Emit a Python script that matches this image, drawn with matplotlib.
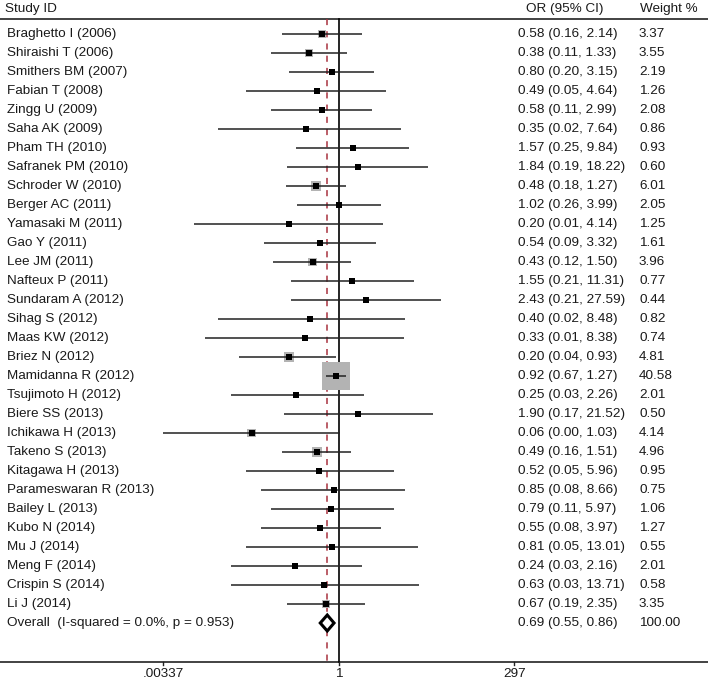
import numpy as np
import matplotlib.pyplot as plt
from matplotlib.patches import Polygon
import matplotlib.transforms as mtransforms

plt.rcParams['font.family'] = ['Liberation Sans', 'DejaVu Sans']

# study data
studies = ['Braghetto I (2006)', 'Shiraishi T (2006)', 'Smithers BM (2007)', 'Fabian T (2008)',
           'Zingg U (2009)', 'Saha AK (2009)', 'Pham TH (2010)', 'Safranek PM (2010)',
           'Schroder W (2010)', 'Berger AC (2011)', 'Yamasaki M (2011)', 'Gao Y (2011)',
           'Lee JM (2011)', 'Nafteux P (2011)', 'Sundaram A (2012)', 'Sihag S (2012)',
           'Maas KW (2012)', 'Briez N (2012)', 'Mamidanna R (2012)', 'Tsujimoto H (2012)',
           'Biere SS (2013)', 'Ichikawa H (2013)', 'Takeno S (2013)', 'Kitagawa H (2013)',
           'Parameswaran R (2013)', 'Bailey L (2013)', 'Kubo N (2014)', 'Mu J (2014)',
           'Meng F (2014)', 'Crispin S (2014)', 'Li J (2014)']
odds = [0.58, 0.38, 0.80, 0.49, 0.58, 0.35, 1.57, 1.84, 0.48, 1.02, 0.20, 0.54, 0.43, 1.55,
        2.43, 0.40, 0.33, 0.20, 0.92, 0.25, 1.90, 0.06, 0.49, 0.52, 0.85, 0.79, 0.55, 0.81,
        0.24, 0.63, 0.67]
lower = [0.16, 0.11, 0.20, 0.05, 0.11, 0.02, 0.25, 0.19, 0.18, 0.26, 0.0092, 0.09, 0.12, 0.21,
         0.21, 0.02, 0.013, 0.04, 0.67, 0.03, 0.17, 0.00337, 0.16, 0.05, 0.08, 0.11, 0.08, 0.05,
         0.03, 0.03, 0.19]
upper = [2.14, 1.33, 3.15, 4.64, 2.99, 7.64, 9.84, 18.22, 1.27, 3.99, 4.14, 3.32, 1.50, 11.31,
         27.59, 8.48, 8.38, 0.93, 1.27, 2.26, 21.52, 1.03, 1.51, 5.96, 8.66, 5.97, 3.97, 13.01,
         2.16, 13.71, 2.35]
or_labels = ['0.58 (0.16, 2.14)', '0.38 (0.11, 1.33)', '0.80 (0.20, 3.15)', '0.49 (0.05, 4.64)',
             '0.58 (0.11, 2.99)', '0.35 (0.02, 7.64)', '1.57 (0.25, 9.84)', '1.84 (0.19, 18.22)',
             '0.48 (0.18, 1.27)', '1.02 (0.26, 3.99)', '0.20 (0.01, 4.14)', '0.54 (0.09, 3.32)',
             '0.43 (0.12, 1.50)', '1.55 (0.21, 11.31)', '2.43 (0.21, 27.59)', '0.40 (0.02, 8.48)',
             '0.33 (0.01, 8.38)', '0.20 (0.04, 0.93)', '0.92 (0.67, 1.27)', '0.25 (0.03, 2.26)',
             '1.90 (0.17, 21.52)', '0.06 (0.00, 1.03)', '0.49 (0.16, 1.51)', '0.52 (0.05, 5.96)',
             '0.85 (0.08, 8.66)', '0.79 (0.11, 5.97)', '0.55 (0.08, 3.97)', '0.81 (0.05, 13.01)',
             '0.24 (0.03, 2.16)', '0.63 (0.03, 13.71)', '0.67 (0.19, 2.35)']
weights = [3.37, 3.55, 2.19, 1.26, 2.08, 0.86, 0.93, 0.60, 6.01, 2.05, 1.25, 1.61, 3.96, 0.77,
           0.44, 0.82, 0.74, 4.81, 40.58, 2.01, 0.50, 4.14, 4.96, 0.95, 0.75, 1.06, 1.27, 0.55,
           2.01, 0.58, 3.35]

overall_label = 'Overall  (I-squared = 0.0%, p = 0.953)'
overall_or, overall_lo, overall_hi = 0.69, 0.55, 0.86
overall_text = '0.69 (0.55, 0.86)'
overall_weight = '100.00'

tick_values = [0.00337, 1, 297]
tick_labels = ['.00337', '1', '297']

W, H = 708, 682
fig = plt.figure(figsize=(W / 100, H / 100), dpi=100)
ax = fig.add_axes([0, 0, 1, 1])
ax.set_xscale('log')
# 30.84 px per log unit, null line at x=338.7 px
k, x0 = 30.84, 338.7
ax.set_xlim(np.exp(-x0 / k), np.exp((W - x0) / k))
# rows: 19 px apart, first row at 34 px from top
ax.set_ylim((H - 34) / 19, -34 / 19)
ax.axis('off')

def row(py):
    return (py - 34) / 19

tr = mtransforms.blended_transform_factory(ax.transAxes, ax.transData)
fs = 9.7
tc = '#1a1a1a'

n = len(studies)
y = np.arange(n)
y_top, y_axis = row(19), row(662)

# header + frame lines
ax.text(5 / W, row(9), 'Study ID', transform=tr, fontsize=fs, color=tc, va='center')
ax.text(526 / W, row(9), 'OR (95% CI)', transform=tr, fontsize=fs, color=tc, va='center')
ax.text(640 / W, row(9), 'Weight %', transform=tr, fontsize=fs, color=tc, va='center')
ax.plot([0, 1], [y_top, y_top], transform=tr, color='#222222', lw=1.2)
ax.plot([0, 1], [y_axis, y_axis], transform=tr, color='#222222', lw=1.2)

# null line and overall dashed line
ax.plot([1, 1], [y_top, y_axis], color='black', lw=1.2, zorder=2)
ax.plot([overall_or, overall_or], [y_top, y_axis], color='#a8323e', lw=1.1,
        dashes=(4, 4), zorder=2)

# weight boxes (area ~ weight), CI lines, point markers
side = 28 * np.sqrt(np.array(weights) / 40.58) * 0.72
ax.scatter(odds, y, marker='s', s=side ** 2, color='#b3b3b3', lw=0, zorder=3)
ax.hlines(y, lower, upper, color='#222222', lw=1.1, zorder=4)
ax.scatter(odds, y, marker='s', s=(6 * 0.72) ** 2, color='black', lw=0, zorder=5)

for i in range(n):
    ax.text(7 / W, y[i], studies[i], transform=tr, fontsize=fs, color=tc, va='center')
    ax.text(518 / W, y[i], or_labels[i], transform=tr, fontsize=fs, color=tc, va='center')
    ax.text(639 / W, y[i], f'{weights[i]:.2f}', transform=tr, fontsize=fs, color=tc, va='center')

# overall diamond
yo = n
dh = 0.42
ax.add_patch(Polygon([[overall_lo, yo], [overall_or, yo - dh], [overall_hi, yo],
                      [overall_or, yo + dh]], closed=True, facecolor='white',
                     edgecolor='black', lw=2.2, zorder=6))
ax.text(7 / W, yo, overall_label, transform=tr, fontsize=fs, color=tc, va='center')
ax.text(518 / W, yo, overall_text, transform=tr, fontsize=fs, color=tc, va='center')
ax.text(639 / W, yo, overall_weight, transform=tr, fontsize=fs, color=tc, va='center')

# x axis ticks
for tv, tl in zip(tick_values, tick_labels):
    ax.plot([tv, tv], [y_axis, y_axis + 0.17], color='#222222', lw=1)
    ax.text(tv, row(674), tl, fontsize=fs, color=tc, ha='center', va='center')

fig.savefig('out.png', dpi=100)
